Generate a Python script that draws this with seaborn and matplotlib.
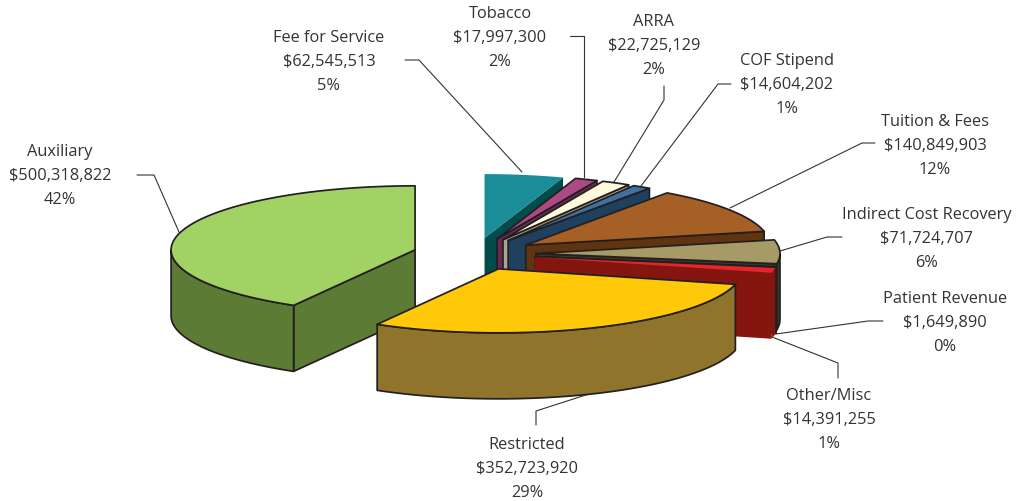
import numpy as np
import matplotlib
matplotlib.use("Agg")
import matplotlib.pyplot as plt
import seaborn as sns

# --- data -------------------------------------------------------------
categories = ["Fee for Service", "Tobacco", "ARRA", "COF Stipend", "Tuition & Fees",
              "Indirect Cost Recovery", "Patient Revenue", "Other/Misc", "Restricted", "Auxiliary"]
values = [62545513, 17997300, 22725129, 14604202, 140849903,
          71724707, 1649890, 14391255, 352723920, 500318822]

# --- style ------------------------------------------------------------
top_colors = ["#1A8D98", "#AD4A82", "#FFFADC", "#3F709F", "#A66026",
              "#A69A66", "#E8D9A0", "#E8242A", "#FFC90A", "#A2D164"]
side_colors = ["#044B4C", "#662A55", "#A8A690", "#20405F", "#5F340F",
               "#3A3826", "#3A3826", "#84150F", "#90742B", "#5C7C36"]
no_outline = {0, 7}
draw_order = [9, 0, 1, 2, 3, 4, 5, 6, 7, 8]
EDGE = "#231F20"
LW = 1.25
CX, CY, RX, RY, DEPTH, EXPLODE = 474.5, 254.0, 244.0, 64.0, 66.0, 0.252

label_xy = [(329, 62), (500, 38), (654, 46), (787, 85), (935, 146),
            (927, 239), (945, 323), (829, 420), (527, 469), (60, 176)]
leaders = [[(405, 60), (419, 60), (522, 172)],
           [(570, 36), (584, 36), (584, 177)],
           [(664, 86), (664, 100), (614, 182)],
           [(731, 84), (718, 84), (641, 186)],
           [(875, 143), (862, 143), (730, 208)],
           [(842, 237), (827, 237), (780, 251)],
           [(883, 321), (868, 321), (776, 334)],
           [(838, 378), (838, 363), (772, 337)],
           [(536, 425), (536, 411), (592, 393)],
           [(137, 175), (154, 175), (179, 232)]]

sns.set_theme(style="white")
plt.rcParams["font.family"] = ["Open Sans", "DejaVu Sans"]

fig = plt.figure(figsize=(10.2, 5.01), dpi=100)
ax = fig.add_axes([0, 0, 1, 1])
ax.set_xlim(0, 1020)
ax.set_ylim(501, 0)
ax.axis("off")

tops = sns.color_palette(top_colors)
sides = sns.color_palette(side_colors)
total = sum(values)
bounds = np.concatenate([[0], np.cumsum(values)]) / total * 2 * np.pi


def pt(org, th, dy=0.0):
    return np.array([org[0] + RX * np.sin(th), org[1] - RY * np.cos(th) + dy])


def arc(org, a, b, dy=0.0):
    n = max(int(abs(b - a) * 60), 2)
    th = np.linspace(a, b, n)
    return np.column_stack([org[0] + RX * np.sin(th), org[1] - RY * np.cos(th) + dy])


def radial(org, th, color, ec, z):
    o = np.array(org)
    p = pt(org, th)
    poly = np.array([o, p, p + [0, DEPTH], o + [0, DEPTH]])
    ax.fill(poly[:, 0], poly[:, 1], fc=color, ec=ec, lw=LW, zorder=z, joinstyle="round")


for rank, i in enumerate(draw_order):
    cat, val = categories[i], values[i]
    a, b = bounds[i], bounds[i + 1]
    m = (a + b) / 2
    org = (CX + EXPLODE * RX * np.sin(m), CY - EXPLODE * RY * np.cos(m))
    ec = "none" if i in no_outline else EDGE
    z = 2 + rank * 0.1
    if np.sin(a) < -1e-6:
        radial(org, a, sides[i], ec, z)
    if np.sin(b) > 1e-6:
        radial(org, b, sides[i], ec, z)
    # outer wall: only the part on the viewer's side of the ellipse
    w0, w1 = max(a, np.pi / 2), min(b, 3 * np.pi / 2)
    if w1 > w0:
        poly = np.vstack([arc(org, w0, w1), arc(org, w1, w0, DEPTH)])
        ax.fill(poly[:, 0], poly[:, 1], fc=sides[i], ec=ec, lw=LW, zorder=z + 0.01, joinstyle="round")
    poly = np.vstack([[org], arc(org, a, b)])
    ax.fill(poly[:, 0], poly[:, 1], fc=tops[i], ec=ec, lw=LW, zorder=z + 0.02, joinstyle="round")

    pts = np.array(leaders[i])
    ax.plot(pts[:, 0], pts[:, 1], color="#333333", lw=0.8, zorder=1)
    ax.text(*label_xy[i], f"{cat}\n${val:,}\n{val / total * 100:.0f}%",
            ha="center", va="center", multialignment="center",
            fontsize=11.8, color="#333333", linespacing=1.64, zorder=5)

fig.savefig("out.png", dpi=100)
